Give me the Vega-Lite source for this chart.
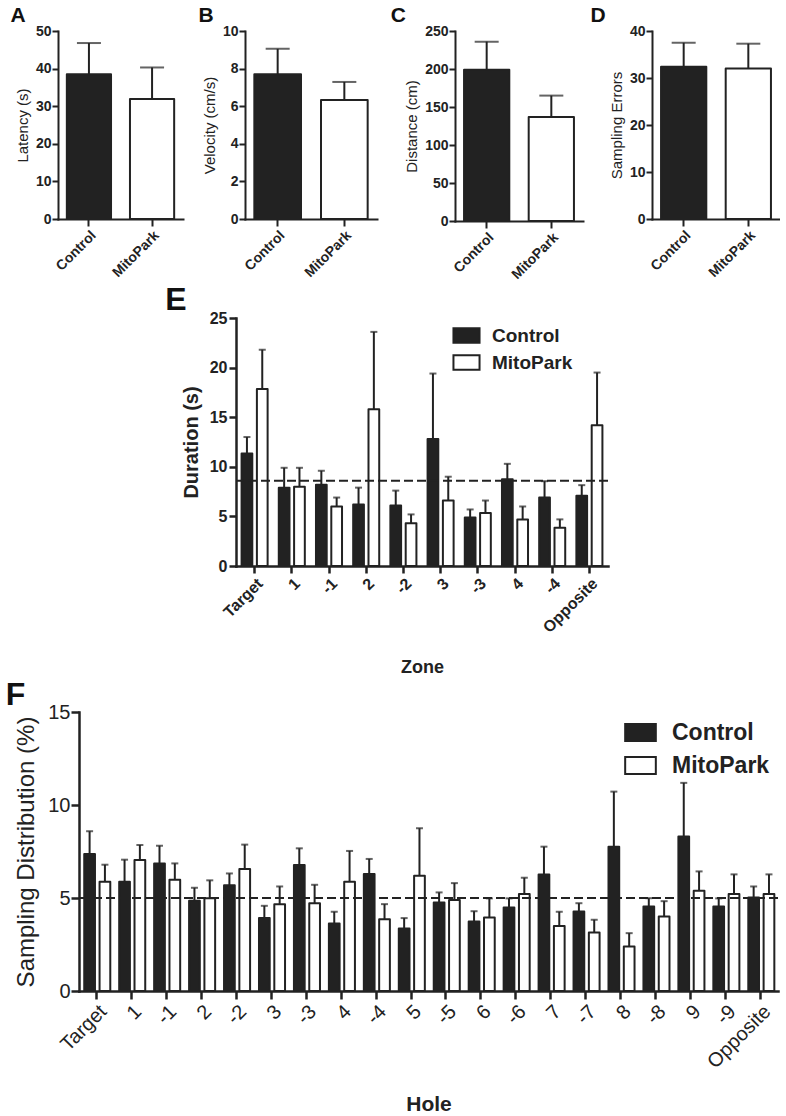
{
  "$schema": "https://vega.github.io/schema/vega-lite/v6.json",
  "padding": {"left": 4, "top": 5, "right": 0, "bottom": 0},
  "config": {
    "font": "Liberation Sans",
    "view": {"stroke": null},
    "axis": {"grid": false, "domainColor": "#222", "tickColor": "#222", "labelColor": "#222", "titleColor": "#222", "domainWidth": 2, "tickWidth": 2, "domainCap": "square", "labelFont": "Liberation Sans", "titleFont": "Liberation Sans", "labelOverlap": false},
    "title": {"anchor": "start", "font": "Liberation Sans", "fontWeight": "bold", "color": "#111", "baseline": "alphabetic", "offset": 0}
  },
  "datasets": {
    "ad": [
      {"panel": "A", "group": "Control", "mean": 38.5, "upper": 46.8},
      {"panel": "A", "group": "MitoPark", "mean": 31.9, "upper": 40.3},
      {"panel": "B", "group": "Control", "mean": 7.7, "upper": 9.05},
      {"panel": "B", "group": "MitoPark", "mean": 6.33, "upper": 7.29},
      {"panel": "C", "group": "Control", "mean": 199, "upper": 236},
      {"panel": "C", "group": "MitoPark", "mean": 137, "upper": 165},
      {"panel": "D", "group": "Control", "mean": 32.4, "upper": 37.5},
      {"panel": "D", "group": "MitoPark", "mean": 32.0, "upper": 37.3}
    ],
    "e": [
      {"zone": "Target", "group": "Control", "mean": 11.35, "upper": 13.0},
      {"zone": "Target", "group": "MitoPark", "mean": 17.85, "upper": 21.8},
      {"zone": "1", "group": "Control", "mean": 7.9, "upper": 9.9},
      {"zone": "1", "group": "MitoPark", "mean": 8.0, "upper": 9.9},
      {"zone": "-1", "group": "Control", "mean": 8.2, "upper": 9.6},
      {"zone": "-1", "group": "MitoPark", "mean": 6.0, "upper": 6.9},
      {"zone": "2", "group": "Control", "mean": 6.2, "upper": 7.9},
      {"zone": "2", "group": "MitoPark", "mean": 15.8, "upper": 23.6},
      {"zone": "-2", "group": "Control", "mean": 6.1, "upper": 7.6},
      {"zone": "-2", "group": "MitoPark", "mean": 4.3, "upper": 5.2},
      {"zone": "3", "group": "Control", "mean": 12.8, "upper": 19.4},
      {"zone": "3", "group": "MitoPark", "mean": 6.6, "upper": 9.0},
      {"zone": "-3", "group": "Control", "mean": 4.9, "upper": 5.7},
      {"zone": "-3", "group": "MitoPark", "mean": 5.35, "upper": 6.6},
      {"zone": "4", "group": "Control", "mean": 8.75, "upper": 10.3},
      {"zone": "4", "group": "MitoPark", "mean": 4.7, "upper": 6.0},
      {"zone": "-4", "group": "Control", "mean": 6.9, "upper": 8.55},
      {"zone": "-4", "group": "MitoPark", "mean": 3.85, "upper": 4.7},
      {"zone": "Opposite", "group": "Control", "mean": 7.07, "upper": 8.15},
      {"zone": "Opposite", "group": "MitoPark", "mean": 14.2, "upper": 19.5}
    ],
    "f": [
      {"hole": "Target", "group": "Control", "mean": 7.37, "upper": 8.59},
      {"hole": "Target", "group": "MitoPark", "mean": 5.87, "upper": 6.79},
      {"hole": "1", "group": "Control", "mean": 5.87, "upper": 7.06},
      {"hole": "1", "group": "MitoPark", "mean": 7.04, "upper": 7.85},
      {"hole": "-1", "group": "Control", "mean": 6.86, "upper": 7.81},
      {"hole": "-1", "group": "MitoPark", "mean": 5.98, "upper": 6.86},
      {"hole": "2", "group": "Control", "mean": 4.85, "upper": 5.55},
      {"hole": "2", "group": "MitoPark", "mean": 4.98, "upper": 5.95},
      {"hole": "-2", "group": "Control", "mean": 5.69, "upper": 6.32},
      {"hole": "-2", "group": "MitoPark", "mean": 6.56, "upper": 7.87},
      {"hole": "3", "group": "Control", "mean": 3.92, "upper": 4.58},
      {"hole": "3", "group": "MitoPark", "mean": 4.67, "upper": 5.62},
      {"hole": "-3", "group": "Control", "mean": 6.77, "upper": 7.67},
      {"hole": "-3", "group": "MitoPark", "mean": 4.72, "upper": 5.71},
      {"hole": "4", "group": "Control", "mean": 3.63, "upper": 4.26},
      {"hole": "4", "group": "MitoPark", "mean": 5.87, "upper": 7.53},
      {"hole": "-4", "group": "Control", "mean": 6.29, "upper": 7.1},
      {"hole": "-4", "group": "MitoPark", "mean": 3.86, "upper": 4.67},
      {"hole": "5", "group": "Control", "mean": 3.36, "upper": 3.92},
      {"hole": "5", "group": "MitoPark", "mean": 6.2, "upper": 8.75},
      {"hole": "-5", "group": "Control", "mean": 4.76, "upper": 5.3},
      {"hole": "-5", "group": "MitoPark", "mean": 4.89, "upper": 5.8},
      {"hole": "6", "group": "Control", "mean": 3.74, "upper": 4.29},
      {"hole": "6", "group": "MitoPark", "mean": 3.95, "upper": 4.98},
      {"hole": "-6", "group": "Control", "mean": 4.49, "upper": 4.98},
      {"hole": "-6", "group": "MitoPark", "mean": 5.21, "upper": 6.09},
      {"hole": "7", "group": "Control", "mean": 6.27, "upper": 7.76},
      {"hole": "7", "group": "MitoPark", "mean": 3.5, "upper": 4.26},
      {"hole": "-7", "group": "Control", "mean": 4.28, "upper": 4.72},
      {"hole": "-7", "group": "MitoPark", "mean": 3.14, "upper": 3.83},
      {"hole": "8", "group": "Control", "mean": 7.76, "upper": 10.72},
      {"hole": "8", "group": "MitoPark", "mean": 2.39, "upper": 3.11},
      {"hole": "-8", "group": "Control", "mean": 4.54, "upper": 4.99},
      {"hole": "-8", "group": "MitoPark", "mean": 4.0, "upper": 4.83},
      {"hole": "9", "group": "Control", "mean": 8.3, "upper": 11.19},
      {"hole": "9", "group": "MitoPark", "mean": 5.39, "upper": 6.43},
      {"hole": "-9", "group": "Control", "mean": 4.54, "upper": 4.98},
      {"hole": "-9", "group": "MitoPark", "mean": 5.21, "upper": 6.27},
      {"hole": "Opposite", "group": "Control", "mean": 5.03, "upper": 5.62},
      {"hole": "Opposite", "group": "MitoPark", "mean": 5.21, "upper": 6.27}
    ]
  },
  "spacing": 2,
  "resolve": {"scale": {"fill": "independent"}, "legend": {"fill": "independent"}},
  "vconcat": [
    {
      "spacing": 0,
      "resolve": {"scale": {"fill": "independent"}, "legend": {"fill": "independent"}},
      "hconcat": [
        {"width": 6, "height": 10, "data": {"values": []}, "mark": {"type": "rule"}, "encoding": {}},
        {
          "spacing": 15,
          "hconcat": [
            {
              "title": {"text": "A", "fontSize": 21, "dx": -5, "dy": 6},
              "width": 125, "height": 188,
              "data": {"name": "ad"},
              "transform": [{"filter": "datum.panel == 'A'"}],
              "encoding": {
                "x": {"field": "group", "type": "nominal", "scale": {"paddingInner": 0.3, "paddingOuter": 0.14}, "axis": {"title": null, "labelAngle": -45, "labelFontSize": 14, "labelFontWeight": "bold", "tickSize": 7}},
                "y": {"field": "mean", "type": "quantitative", "scale": {"domain": [0, 50], "nice": false}, "axis": {"title": "Latency (s)", "values": [0, 10, 20, 30, 40, 50], "labelFontSize": 14, "labelFontWeight": "bold", "titleFontSize": 15, "titleFontWeight": "normal", "tickSize": 6, "labelPadding": 1, "titlePadding": 5}}
              },
              "layer": [
                {"mark": {"type": "bar", "stroke": "#222", "strokeWidth": 2, "strokeJoin": "round"},
                 "encoding": {"fill": {"field": "group", "type": "nominal", "scale": {"domain": ["Control", "MitoPark"], "range": ["#222222", "#ffffff"]}, "legend": null}}},
                {"mark": {"type": "rule", "color": "#222", "strokeWidth": 2}, "encoding": {"y2": {"field": "upper"}}},
                {"mark": {"type": "tick", "color": "#222", "size": 24, "thickness": 2}, "encoding": {"y": {"field": "upper", "type": "quantitative", "axis": {"title": "Latency (s)", "values": [0, 10, 20, 30, 40, 50], "labelFontSize": 14, "labelFontWeight": "bold", "titleFontSize": 15, "titleFontWeight": "normal", "tickSize": 6, "labelPadding": 1, "titlePadding": 5}}}}
              ]
            },
            {
              "spacing": 13,
              "hconcat": [
                {
                  "title": {"text": "B", "fontSize": 21, "dx": -4, "dy": 6},
                  "width": 132, "height": 188,
                  "data": {"name": "ad"},
                  "transform": [{"filter": "datum.panel == 'B'"}],
                  "encoding": {
                    "x": {"field": "group", "type": "nominal", "scale": {"paddingInner": 0.3, "paddingOuter": 0.14}, "axis": {"title": null, "labelAngle": -45, "labelFontSize": 14, "labelFontWeight": "bold", "tickSize": 7}},
                    "y": {"field": "mean", "type": "quantitative", "scale": {"domain": [0, 10], "nice": false}, "axis": {"title": "Velocity (cm/s)", "values": [0, 2, 4, 6, 8, 10], "labelFontSize": 14, "labelFontWeight": "bold", "titleFontSize": 15, "titleFontWeight": "normal", "tickSize": 6, "labelPadding": 1, "titlePadding": 5}}
                  },
                  "layer": [
                    {"mark": {"type": "bar", "stroke": "#222", "strokeWidth": 2, "strokeJoin": "round"},
                     "encoding": {"fill": {"field": "group", "type": "nominal", "scale": {"domain": ["Control", "MitoPark"], "range": ["#222222", "#ffffff"]}, "legend": null}}},
                    {"mark": {"type": "rule", "color": "#222", "strokeWidth": 2}, "encoding": {"y2": {"field": "upper"}}},
                    {"mark": {"type": "tick", "color": "#222", "size": 24, "thickness": 2}, "encoding": {"y": {"field": "upper", "type": "quantitative", "axis": {"title": "Velocity (cm/s)", "values": [0, 2, 4, 6, 8, 10], "labelFontSize": 14, "labelFontWeight": "bold", "titleFontSize": 15, "titleFontWeight": "normal", "tickSize": 6, "labelPadding": 1, "titlePadding": 5}}}}
                  ]
                },
                {
                  "spacing": 7,
                  "hconcat": [
                    {
                      "title": {"text": "C", "fontSize": 21, "dx": -14, "dy": 6},
                      "width": 128, "height": 190,
                      "data": {"name": "ad"},
                      "transform": [{"filter": "datum.panel == 'C'"}],
                      "encoding": {
                        "x": {"field": "group", "type": "nominal", "scale": {"paddingInner": 0.3, "paddingOuter": 0.14}, "axis": {"title": null, "labelAngle": -45, "labelFontSize": 14, "labelFontWeight": "bold", "tickSize": 7}},
                        "y": {"field": "mean", "type": "quantitative", "scale": {"domain": [0, 250], "nice": false}, "axis": {"title": "Distance (cm)", "values": [0, 50, 100, 150, 200, 250], "labelFontSize": 14, "labelFontWeight": "bold", "titleFontSize": 15, "titleFontWeight": "normal", "tickSize": 6, "labelPadding": 1, "titlePadding": 5}}
                      },
                      "layer": [
                        {"mark": {"type": "bar", "stroke": "#222", "strokeWidth": 2, "strokeJoin": "round"},
                         "encoding": {"fill": {"field": "group", "type": "nominal", "scale": {"domain": ["Control", "MitoPark"], "range": ["#222222", "#ffffff"]}, "legend": null}}},
                        {"mark": {"type": "rule", "color": "#222", "strokeWidth": 2}, "encoding": {"y2": {"field": "upper"}}},
                        {"mark": {"type": "tick", "color": "#222", "size": 24, "thickness": 2}, "encoding": {"y": {"field": "upper", "type": "quantitative", "axis": {"title": "Distance (cm)", "values": [0, 50, 100, 150, 200, 250], "labelFontSize": 14, "labelFontWeight": "bold", "titleFontSize": 15, "titleFontWeight": "normal", "tickSize": 6, "labelPadding": 1, "titlePadding": 5}}}}
                      ]
                    },
                    {
                      "title": {"text": "D", "fontSize": 21, "dx": -19, "dy": 6},
                      "width": 128, "height": 188,
                      "data": {"name": "ad"},
                      "transform": [{"filter": "datum.panel == 'D'"}],
                      "encoding": {
                        "x": {"field": "group", "type": "nominal", "scale": {"paddingInner": 0.3, "paddingOuter": 0.14}, "axis": {"title": null, "labelAngle": -45, "labelFontSize": 14, "labelFontWeight": "bold", "tickSize": 7}},
                        "y": {"field": "mean", "type": "quantitative", "scale": {"domain": [0, 40], "nice": false}, "axis": {"title": "Sampling Errors", "values": [0, 10, 20, 30, 40], "labelFontSize": 14, "labelFontWeight": "bold", "titleFontSize": 15, "titleFontWeight": "normal", "tickSize": 6, "labelPadding": 1, "titlePadding": 5}}
                      },
                      "layer": [
                        {"mark": {"type": "bar", "stroke": "#222", "strokeWidth": 2, "strokeJoin": "round"},
                         "encoding": {"fill": {"field": "group", "type": "nominal", "scale": {"domain": ["Control", "MitoPark"], "range": ["#222222", "#ffffff"]}, "legend": null}}},
                        {"mark": {"type": "rule", "color": "#222", "strokeWidth": 2}, "encoding": {"y2": {"field": "upper"}}},
                        {"mark": {"type": "tick", "color": "#222", "size": 24, "thickness": 2}, "encoding": {"y": {"field": "upper", "type": "quantitative", "axis": {"title": "Sampling Errors", "values": [0, 10, 20, 30, 40], "labelFontSize": 14, "labelFontWeight": "bold", "titleFontSize": 15, "titleFontWeight": "normal", "tickSize": 6, "labelPadding": 1, "titlePadding": 5}}}}
                      ]
                    }
                  ]
                }
              ]
            }
          ]
        }
      ]
    },
    {
      "spacing": 0,
      "resolve": {"scale": {"fill": "independent"}, "legend": {"fill": "independent"}},
      "hconcat": [
        {"width": 161, "height": 10, "data": {"values": []}, "mark": {"type": "rule"}, "encoding": {}},
        {
          "title": {"text": "E", "fontSize": 32, "dx": -16, "dy": 11},
          "width": 372, "height": 248,
          "data": {"name": "e"},
          "layer": [
            {"mark": {"type": "bar", "stroke": "#222", "strokeWidth": 2, "strokeJoin": "round"},
             "encoding": {
               "x": {"field": "zone", "type": "nominal", "sort": ["Target", "1", "-1", "2", "-2", "3", "-3", "4", "-4", "Opposite"], "scale": {"paddingInner": 0.3, "paddingOuter": 0.15}, "axis": {"title": "Zone", "labelAngle": -45, "labelFontSize": 16, "labelFontWeight": "bold", "titleFontSize": 18, "titleFontWeight": "bold", "tickSize": 7, "tickWidth": 2.5, "domainWidth": 2.5, "titlePadding": 23}},
               "xOffset": {"field": "group", "type": "nominal", "scale": {"paddingInner": 0.3}},
               "y": {"field": "mean", "type": "quantitative", "scale": {"domain": [0, 25], "nice": false}, "axis": {"title": "Duration (s)", "values": [0, 5, 10, 15, 20, 25], "labelFontSize": 16, "labelFontWeight": "bold", "titleFontSize": 20, "titleFontWeight": "bold", "tickSize": 7, "tickWidth": 2.5, "domainWidth": 2.5, "labelPadding": 2, "titlePadding": 8}},
               "fill": {"field": "group", "type": "nominal", "scale": {"domain": ["Control", "MitoPark"], "range": ["#222222", "#ffffff"]},
                        "legend": {"title": null, "orient": "none", "legendX": 221, "legendY": 8, "symbolType": "M-1.8,-1H1.8V1H-1.8Z", "symbolSize": 210, "symbolStrokeWidth": 2, "symbolStrokeColor": "#222", "labelFontSize": 19, "labelFontWeight": "bold", "labelColor": "#222", "labelOffset": 16, "rowPadding": 4, "labelFont": "Liberation Sans"}}
             }},
            {"mark": {"type": "rule", "color": "#222", "strokeWidth": 2},
             "encoding": {
               "x": {"field": "zone", "type": "nominal", "sort": ["Target", "1", "-1", "2", "-2", "3", "-3", "4", "-4", "Opposite"]},
               "xOffset": {"field": "group", "type": "nominal"},
               "y": {"field": "mean", "type": "quantitative"}, "y2": {"field": "upper"}}},
            {"mark": {"type": "tick", "color": "#222", "size": 7, "thickness": 2},
             "encoding": {
               "x": {"field": "zone", "type": "nominal", "sort": ["Target", "1", "-1", "2", "-2", "3", "-3", "4", "-4", "Opposite"]},
               "xOffset": {"field": "group", "type": "nominal"},
               "y": {"field": "upper", "type": "quantitative"}}},
            {"data": {"values": [{"ref": 8.6}]}, "mark": {"type": "rule", "color": "#222", "strokeWidth": 2, "strokeDash": [9, 4]}, "encoding": {"y": {"field": "ref", "type": "quantitative"}}}
          ]
        }
      ]
    },
    {
      "spacing": 0,
      "resolve": {"scale": {"fill": "independent"}, "legend": {"fill": "independent"}},
      "hconcat": [
        {"width": 1, "height": 10, "data": {"values": []}, "mark": {"type": "rule"}, "encoding": {}},
        {
          "title": {"text": "F", "fontSize": 32, "dx": -9, "dy": 14},
          "width": 699, "height": 279,
          "data": {"name": "f"},
          "layer": [
            {"mark": {"type": "bar", "stroke": "#222", "strokeWidth": 2, "strokeJoin": "round"},
             "encoding": {
               "x": {"field": "hole", "type": "nominal", "sort": ["Target", "1", "-1", "2", "-2", "3", "-3", "4", "-4", "5", "-5", "6", "-6", "7", "-7", "8", "-8", "9", "-9", "Opposite"], "scale": {"paddingInner": 0.3, "paddingOuter": 0.15}, "axis": {"title": "Hole", "labelAngle": -45, "labelFontSize": 20, "labelFontWeight": "normal", "titleFontSize": 21, "titleFontWeight": "bold", "tickSize": 8, "tickWidth": 2.5, "domainWidth": 2.5, "titlePadding": 22}},
               "xOffset": {"field": "group", "type": "nominal", "scale": {"paddingInner": 0.3}},
               "y": {"field": "mean", "type": "quantitative", "scale": {"domain": [0, 15], "nice": false}, "axis": {"title": "Sampling Distribution (%)", "values": [0, 5, 10, 15], "labelFontSize": 20, "labelFontWeight": "normal", "titleFontSize": 24, "titleFontWeight": "normal", "tickSize": 8, "tickWidth": 2.5, "domainWidth": 2.5, "labelPadding": 1, "titlePadding": 9}},
               "fill": {"field": "group", "type": "nominal", "scale": {"domain": ["Control", "MitoPark"], "range": ["#222222", "#ffffff"]},
                        "legend": {"title": null, "orient": "none", "legendX": 550, "legendY": 9, "symbolType": "M-1.8,-1H1.8V1H-1.8Z", "symbolSize": 290, "symbolStrokeWidth": 2, "symbolStrokeColor": "#222", "labelFontSize": 23, "labelFontWeight": "bold", "labelColor": "#222", "labelOffset": 20, "rowPadding": 6, "labelFont": "Liberation Sans"}}
             }},
            {"mark": {"type": "rule", "color": "#222", "strokeWidth": 2},
             "encoding": {
               "x": {"field": "hole", "type": "nominal", "sort": ["Target", "1", "-1", "2", "-2", "3", "-3", "4", "-4", "5", "-5", "6", "-6", "7", "-7", "8", "-8", "9", "-9", "Opposite"]},
               "xOffset": {"field": "group", "type": "nominal"},
               "y": {"field": "mean", "type": "quantitative"}, "y2": {"field": "upper"}}},
            {"mark": {"type": "tick", "color": "#222", "size": 7, "thickness": 2},
             "encoding": {
               "x": {"field": "hole", "type": "nominal", "sort": ["Target", "1", "-1", "2", "-2", "3", "-3", "4", "-4", "5", "-5", "6", "-6", "7", "-7", "8", "-8", "9", "-9", "Opposite"]},
               "xOffset": {"field": "group", "type": "nominal"},
               "y": {"field": "upper", "type": "quantitative"}}},
            {"data": {"values": [{"ref": 5}]}, "mark": {"type": "rule", "color": "#222", "strokeWidth": 2, "strokeDash": [9, 4]}, "encoding": {"y": {"field": "ref", "type": "quantitative"}}}
          ]
        }
      ]
    }
  ]
}
